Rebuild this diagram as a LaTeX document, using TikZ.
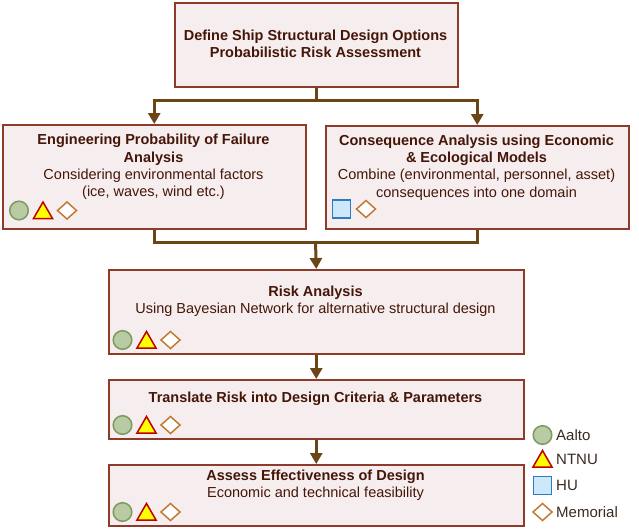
\documentclass[tikz,border=0pt]{standalone}
\usepackage{fontspec}
\setmainfont{Liberation Sans}
\usetikzlibrary{arrows.meta}
\definecolor{boxfill}{HTML}{F6EEEE}
\definecolor{boxdraw}{HTML}{8E3B2C}
\definecolor{txtcol}{HTML}{451608}
\definecolor{conncol}{HTML}{6B4516}
\definecolor{aaltofill}{HTML}{B8CBA2}
\definecolor{aaltodraw}{HTML}{7D9A62}
\definecolor{ntnufill}{HTML}{FFFF00}
\definecolor{ntnudraw}{HTML}{C00000}
\definecolor{hufill}{HTML}{CDE8FB}
\definecolor{hudraw}{HTML}{2F7BBF}
\definecolor{memdraw}{HTML}{C07A35}
\definecolor{legcol}{HTML}{3A2A22}
\tikzset{
  stagebox/.style={draw=boxdraw, fill=boxfill, line width=1.5pt, rectangle, inner sep=0pt, anchor=north west},
  stagetxt/.style={text=txtcol, align=center, inner sep=0pt, font=\fontsize{14.5}{17.3}\selectfont},
  conn/.style={draw=conncol, line width=3pt},
  arr/.style={conn, -{Triangle[length=11pt,width=12pt]}},
  legtxt/.style={text=legcol, anchor=west, inner sep=0pt, font=\fontsize{15}{18}\selectfont},
  aalto/.pic={\draw[fill=aaltofill, draw=aaltodraw, line width=1.5pt] (0,0) circle[radius=9.3pt];},
  ntnu/.pic={\draw[fill=ntnufill, draw=ntnudraw, line width=1.5pt, line join=miter] (-9.5,8) -- (9.5,8) -- (0,-8.5) -- cycle;},
  hu/.pic={\draw[fill=hufill, draw=hudraw, line width=1.5pt] (-9,-9) rectangle (9,9);},
  memorial/.pic={\draw[fill=white, draw=memdraw, line width=1.5pt, line join=miter] (0,-8.5) -- (9.5,0) -- (0,8.5) -- (-9.5,0) -- cycle;}
}
\begin{document}
\begin{tikzpicture}[x=1pt, y=-1pt]
\useasboundingbox (0,0) rectangle (639,528);
% boxes
\node[stagebox, minimum width=283pt, minimum height=84pt] (top) at (174,2) {};
\node[stagebox, minimum width=303pt, minimum height=104pt] (left) at (2,124) {};
\node[stagebox, minimum width=303pt, minimum height=103pt] (right) at (325,125) {};
\node[stagebox, minimum width=415pt, minimum height=84pt] (risk) at (108,269) {};
\node[stagebox, minimum width=415pt, minimum height=59pt] (trans) at (108,379) {};
\node[stagebox, minimum width=415pt, minimum height=61pt] (assess) at (108,464) {};
% texts
\node[stagetxt] (toptxt) at (315.5,43.5) {\textbf{Define Ship Structural Design Options}\\\textbf{Probabilistic Risk Assessment}};
\node[stagetxt] (lefttxt) at (153.5,167) {\textbf{Engineering Probability of Failure}\\\textbf{Analysis}\\Considering environmental factors\\(ice, waves, wind etc.)};
\node[stagetxt] (righttxt) at (476.5,167.5) {\textbf{Consequence Analysis using Economic}\\\textbf{\& Ecological Models}\\Combine (environmental, personnel, asset)\\consequences into one domain};
\node[stagetxt] (risktxt) at (315.5,301.5) {\textbf{Risk Analysis}\\Using Bayesian Network for alternative structural design};
\node[stagetxt] (transtxt) at (315.5,399) {\textbf{Translate Risk into Design Criteria \& Parameters}};
\node[stagetxt] (assesstxt) at (315.5,485) {\textbf{Assess Effectiveness of Design}\\Economic and technical feasibility};
% icons
\pic at (19,210.5) {aalto};
\pic at (43,210.5) {ntnu};
\pic at (67,210.5) {memorial};
\pic at (341.5,209) {hu};
\pic at (366,209) {memorial};
\foreach \yy in {340,425,512} {
  \pic at (122.5,\yy) {aalto};
  \pic at (146.5,\yy) {ntnu};
  \pic at (170.5,\yy) {memorial};
}
% connectors
\draw[arr] (top.south) -- ++(0,13) -| (left.north);
\draw[arr] (top.south) -- ++(0,13) -| (right.north);
\draw[conn] (left.south) -- ++(0,13) -| (right.south);
\coordinate (join) at (315.5,241);
\draw[arr] (join) -- (risk.north);
\draw[arr] (risk.south) -- (trans.north);
\draw[arr] (trans.south) -- (assess.north);
% legend
\pic at (542.5,435) {aalto};
\pic at (542.5,459) {ntnu};
\pic at (542.5,485.5) {hu};
\pic at (542.5,512) {memorial};
\node[legtxt] (lA) at (556,435) {Aalto};
\node[legtxt] (lN) at (556,459) {NTNU};
\node[legtxt] (lH) at (556,485) {HU};
\node[legtxt] (lM) at (556,512) {Memorial};
\end{tikzpicture}
\end{document}
